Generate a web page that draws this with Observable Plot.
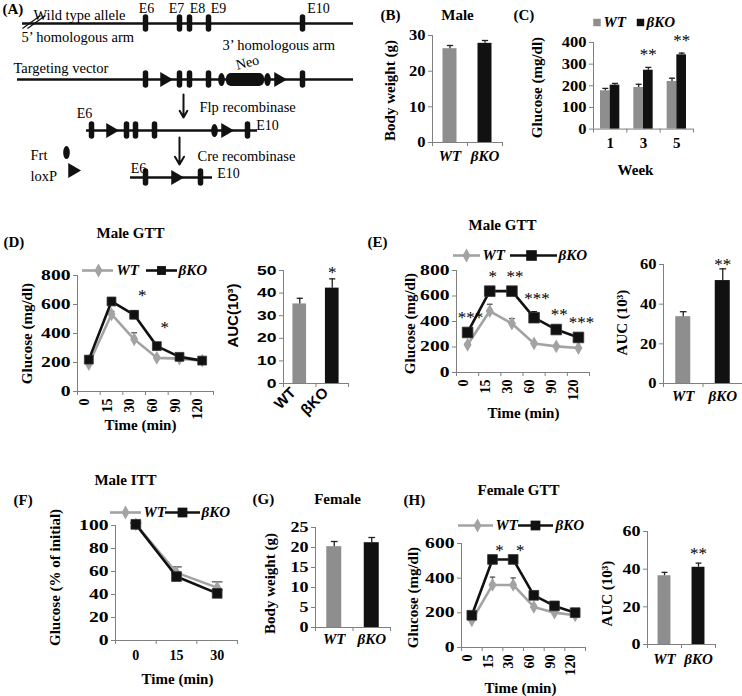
<!DOCTYPE html>
<html><head><meta charset="utf-8">
<script src="https://cdn.jsdelivr.net/npm/d3@7"></script>
<script src="https://cdn.jsdelivr.net/npm/@observablehq/plot@0.6"></script>
<style>
html,body{margin:0;padding:0;background:#fff;}
#fig{position:relative;width:742px;height:696px;overflow:hidden;background:#fff;}
</style></head><body><div id="fig"></div>
<script>
// ---------------- data ----------------
const genotypes = ["WT", "βKO"];
// (B) male body weight (g)
const maleWeight = [26.3, 27.8];
const maleWeightErr = [0.9, 0.8];
// (C) glucose by week (mg/dl)
const weeks = ["1", "3", "5"];
const weekWT = [177, 192, 220];
const weekWTErr = [11, 15, 15];
const weekKO = [203, 272, 343];
const weekKOErr = [8, 13, 8];
const weekStars = ["", "**", "**"];
// GTT sampling times (min)
const gttTimes = ["0", "15", "30", "60", "90", "120"];
// (D) male GTT
const dWT = [190, 533, 360, 232, 227, 213];
const dWTErr = [8, 20, 45, 10, 10, 10];
const dKO = [220, 621, 529, 313, 239, 213];
const dKOErr = [12, 25, 28, 22, 10, 8];
const dStars = ["", "", "*", "*", "", ""];
const dAUC = [35.2, 42.2];
const dAUCErr = [2.5, 4.1];
const dAUCStars = ["", "*"];
// (E) male GTT
const eWT = [218, 482, 384, 228, 205, 192];
const eWTErr = [10, 53, 39, 10, 8, 8];
const eKO = [314, 638, 638, 430, 337, 275];
const eKOErr = [15, 15, 15, 47, 15, 12];
const eStars = ["***", "*", "**", "***", "**", "***"];
const eAUC = [33.7, 51.9];
const eAUCErr = [2.5, 5.9];
const eAUCStars = ["", "**"];
// (F) male ITT (% of initial)
const ittTimes = ["0", "15", "30"];
const fWT = [101, 59, 46];
const fWTErr = [1, 5, 5];
const fKO = [101, 55.6, 41];
const fKOErr = [1, 3, 3];
const fStars = ["", "", ""];
// (G) female body weight (g)
const femaleWeight = [20.2, 21.2];
const femaleWeightErr = [1.3, 1.3];
// (H) female GTT
const hWT = [157, 361, 361, 234, 201, 186];
const hWTErr = [8, 45, 40, 10, 8, 8];
const hKO = [186, 508, 508, 301, 240, 201];
const hKOErr = [10, 12, 12, 15, 10, 8];
const hStars = ["", "*", "*", "", "", ""];
const hAUC = [36.5, 41];
const hAUCErr = [1.8, 2.2];
const hAUCStars = ["", "**"];

// ---------------- styles ----------------
const SERIF = "'Liberation Serif', 'Times New Roman', serif";
const SANS = "'Liberation Sans', Arial, sans-serif";
const GRAY = "#8e8e8e";
const LGRAY = "#a3a3a3";
const BLACK = "#111111";
const AXIS = "#808080";
const ERRGRAY = "#555555";
const fig = document.getElementById("fig");

function mount(node, left, top) {
  node.style.position = "absolute";
  node.style.left = left + "px";
  node.style.top = top + "px";
  fig.appendChild(node);
}
function geom(f) {
  const pad = {l: 45, t: 14, r: 14, b: 45};
  return {width: f.x1 - f.x0 + pad.l + pad.r, height: f.y1 - f.y0 + pad.t + pad.b,
    marginLeft: pad.l, marginRight: pad.r, marginTop: pad.t, marginBottom: pad.b,
    left: f.x0 - pad.l, top: f.y0 - pad.t};
}
function style(font) {
  return {background: "transparent", fontFamily: font, fontSize: "15px", fontWeight: "bold", color: "black", overflow: "visible"};
}
function widen(svg, selector, sx, sy) {
  svg.querySelectorAll(selector).forEach(t => {
    const tr = t.getAttribute("transform") || "";
    t.setAttribute("transform", tr + ` scale(${sx},${sy})`);
  });
}
function axes(n, yDomain, yTicks, font, size) {
  return [
    Plot.ruleX([0], {stroke: AXIS}),
    Plot.ruleY([yDomain[0]], {stroke: AXIS}),
    Plot.axisY({ticks: yTicks, tickSize: 4, tickPadding: 3, stroke: AXIS, fill: "black",
      fontFamily: font, fontSize: size, fontWeight: "bold", label: null, tickFormat: d => String(d)}),
    Plot.ruleX(d3.range(n + 1), {x: d => d, y1: yDomain[0], y2: yDomain[0], insetBottom: -4, stroke: AXIS})
  ];
}
function errBars(idx, xf, vals, errs, stroke, cw) {
  const top = i => vals[i] + errs[i];
  return [
    Plot.ruleX(idx, {x: xf, y1: i => vals[i], y2: top, stroke, strokeWidth: 1.3}),
    Plot.link(idx, {x1: i => xf(i) - cw, x2: i => xf(i) + cw, y1: top, y2: top, stroke, strokeWidth: 1.3})
  ];
}
function scales(n, yDomain) {
  return {x: {domain: [0, n], axis: null}, y: {domain: yDomain, axis: null}};
}

function linePanel(p) {
  const n = p.labels.length, idx = d3.range(n), cx = i => i + 0.5;
  const g = geom(p.frame);
  const starY = i => Math.max(p.ko[i] + p.koErr[i], p.wt[i] + p.wtErr[i]);
  const svg = Plot.plot({
    width: g.width, height: g.height, marginLeft: g.marginLeft, marginRight: g.marginRight,
    marginTop: g.marginTop, marginBottom: g.marginBottom,
    ...scales(n, p.yDomain),
    style: style(SERIF),
    marks: [
      ...axes(n, p.yDomain, p.yTicks, SERIF, 14),
      Plot.text(p.labels, {x: (d, i) => cx(i), frameAnchor: "bottom", dy: p.labelDy,
        rotate: p.rotate, textAnchor: p.rotate ? "end" : "middle", text: d => d, fontSize: 14, fill: "black",
        ariaLabel: "category label"}),
      ...errBars(idx, cx, p.wt, p.wtErr, ERRGRAY, 0.13),
      ...errBars(idx, cx, p.ko, p.koErr, BLACK, 0.13),
      Plot.line(idx, {x: cx, y: i => p.wt[i], stroke: LGRAY, strokeWidth: 2.6}),
      Plot.dot(idx, {x: cx, y: i => p.wt[i], symbol: "diamond", fill: LGRAY, r: p.dr}),
      Plot.line(idx, {x: cx, y: i => p.ko[i], stroke: BLACK, strokeWidth: 2.6}),
      Plot.dot(idx, {x: cx, y: i => p.ko[i], symbol: "square", fill: BLACK, stroke: "#333", strokeWidth: 0.8, r: p.sr}),
      Plot.text(idx.filter(i => p.stars[i]), {x: cx, y: starY, text: i => p.stars[i], dx: p.starDx, dy: p.starDy,
        fontWeight: "normal", fontSize: 17, fill: "black"})
    ]
  });
  widen(svg, 'g[aria-label="y-axis tick label"] text', 1.4, 1);
  if (p.rotate) widen(svg, 'g[aria-label="category label"] text', 1, 1.35);
  mount(svg, g.left, g.top);
}

function barPanel(p) {
  const n = p.labels.length, idx = d3.range(n), cx = i => i + 0.5;
  const colors = [GRAY, BLACK];
  const font = p.font || SERIF;
  const g = geom(p.frame);
  const svg = Plot.plot({
    width: g.width, height: g.height, marginLeft: g.marginLeft, marginRight: g.marginRight,
    marginTop: g.marginTop, marginBottom: g.marginBottom,
    ...scales(n, p.yDomain),
    style: style(font),
    marks: [
      ...axes(n, p.yDomain, p.yTicks, font, p.tickFont || 15),
      ...idx.map(i => Plot.rect([i], {x1: cx(i) - p.hw, x2: cx(i) + p.hw, y1: 0, y2: p.values[i], fill: colors[i]})),
      ...errBars(idx, cx, p.values, p.errs, "#222", p.hw * 0.45),
      Plot.text(p.labels, {x: (d, i) => cx(i), frameAnchor: "bottom", dy: p.labelDy, dx: p.labelDx || 0,
        rotate: p.rotate || 0, textAnchor: p.rotate ? "end" : "middle", text: d => d, fontSize: 15, fill: "black",
        fontStyle: p.italic ? "italic" : "normal", fontFamily: font}),
      Plot.text(idx.filter(i => p.stars && p.stars[i]), {x: cx, y: i => p.values[i] + p.errs[i],
        text: i => p.stars[i], dy: p.starDy, fontWeight: "normal", fontSize: 17, fontFamily: SERIF, fill: "black"})
    ]
  });
  widen(svg, 'g[aria-label="y-axis tick label"] text', p.wide || 1.1, 1);
  mount(svg, g.left, g.top);
}

function groupPanel(p) {
  const n = p.labels.length, idx = d3.range(n), cx = i => i + 0.5;
  const bw = p.bw;
  const wx = i => cx(i) - bw / 2, kx = i => cx(i) + bw / 2;
  const g = geom(p.frame);
  const svg = Plot.plot({
    width: g.width, height: g.height, marginLeft: g.marginLeft, marginRight: g.marginRight,
    marginTop: g.marginTop, marginBottom: g.marginBottom,
    ...scales(n, p.yDomain),
    style: style(SERIF),
    marks: [
      ...axes(n, p.yDomain, p.yTicks, SERIF, 15),
      Plot.rect(idx, {x1: i => cx(i) - bw, x2: cx, y1: 0, y2: i => p.wt[i], fill: GRAY}),
      Plot.rect(idx, {x1: cx, x2: i => cx(i) + bw, y1: 0, y2: i => p.ko[i], fill: BLACK}),
      ...errBars(idx, wx, p.wt, p.wtErr, "#222", 0.09),
      ...errBars(idx, kx, p.ko, p.koErr, "#222", 0.09),
      Plot.text(p.labels, {x: (d, i) => cx(i), frameAnchor: "bottom", dy: p.labelDy, text: d => d, fontSize: 15, fill: "black"}),
      Plot.text(idx.filter(i => p.stars[i]), {x: kx, y: i => p.ko[i] + p.koErr[i], text: i => p.stars[i],
        dy: p.starDy, fontWeight: "normal", fontSize: 17, fill: "black"})
    ]
  });
  widen(svg, 'g[aria-label="y-axis tick label"] text', 1.1, 1);
  mount(svg, g.left, g.top);
}

// ---------------- panels ----------------
barPanel({frame: {x0: 432, x1: 502, y0: 35, y1: 142}, yDomain: [0, 30], yTicks: [0, 10, 20, 30],
  values: maleWeight, errs: maleWeightErr, labels: genotypes, hw: 0.2, labelDy: 18, italic: true});
groupPanel({frame: {x0: 593, x1: 693, y0: 41.7, y1: 128.3}, yDomain: [0, 400], yTicks: [0, 100, 200, 300, 400],
  wt: weekWT, wtErr: weekWTErr, ko: weekKO, koErr: weekKOErr, stars: weekStars, labels: weeks,
  bw: 0.29, labelDy: 19, starDy: -13});
linePanel({frame: {x0: 77, x1: 213, y0: 275, y1: 391}, yDomain: [0, 800], yTicks: [0, 200, 400, 600, 800],
  wt: dWT, wtErr: dWTErr, ko: dKO, koErr: dKOErr, stars: dStars, labels: gttTimes,
  rotate: -90, labelDy: 7, dr: 4.2, sr: 5, starDx: 8, starDy: -15});
barPanel({frame: {x0: 283, x1: 348, y0: 270, y1: 383}, yDomain: [0, 50], yTicks: [0, 10, 20, 30, 40, 50],
  values: dAUC, errs: dAUCErr, labels: ["WT", "βKO"], hw: 0.21, font: SANS, tickFont: 13, wide: 1.35,
  rotate: -45, labelDy: 10, labelDx: -3, stars: dAUCStars, starDy: -6});
linePanel({frame: {x0: 456, x1: 589, y0: 270, y1: 372}, yDomain: [0, 800], yTicks: [0, 200, 400, 600, 800],
  wt: eWT, wtErr: eWTErr, ko: eKO, koErr: eKOErr, stars: eStars, labels: gttTimes,
  rotate: -90, labelDy: 7, dr: 4.2, sr: 6, starDx: 3, starDy: -13});
barPanel({frame: {x0: 663, x1: 742, y0: 264, y1: 383}, yDomain: [0, 60], yTicks: [0, 20, 40, 60],
  values: eAUC, errs: eAUCErr, labels: genotypes, hw: 0.19, labelDy: 17, italic: true,
  stars: eAUCStars, starDy: -4});
linePanel({frame: {x0: 115, x1: 237, y0: 525, y1: 640}, yDomain: [0, 100], yTicks: [0, 20, 40, 60, 80, 100],
  wt: fWT, wtErr: fWTErr, ko: fKO, koErr: fKOErr, stars: fStars, labels: ittTimes,
  rotate: 0, labelDy: 19, dr: 4.2, sr: 5.5, starDx: 0, starDy: 0});
barPanel({frame: {x0: 315, x1: 390, y0: 527, y1: 627}, yDomain: [0, 25], yTicks: [0, 5, 10, 15, 20, 25],
  values: femaleWeight, errs: femaleWeightErr, labels: genotypes, hw: 0.2, labelDy: 16, italic: true, wide: 1.2});
linePanel({frame: {x0: 461, x1: 585, y0: 543, y1: 647}, yDomain: [0, 600], yTicks: [0, 200, 400, 600],
  wt: hWT, wtErr: hWTErr, ko: hKO, koErr: hKOErr, stars: hStars, labels: gttTimes,
  rotate: -90, labelDy: 7, dr: 4.2, sr: 5.5, starDx: 7, starDy: -7});
barPanel({frame: {x0: 647, x1: 715, y0: 531, y1: 644}, yDomain: [0, 60], yTicks: [0, 20, 40, 60],
  values: hAUC, errs: hAUCErr, labels: genotypes, hw: 0.19, labelDy: 19, italic: true, wide: 1.2,
  stars: hAUCStars, starDy: -10});

// ---------------- schematic (A) and annotation layer ----------------
const schemeLines = [{x1: 22, x2: 353, y: 23}, {x1: 17, x2: 353, y: 79}, {x1: 86, x2: 257, y: 130}, {x1: 130, x2: 212, y: 177}];
const schemeExons = [
  {x: 145, y: 23}, {x: 179, y: 23}, {x: 189, y: 23}, {x: 208, y: 23}, {x: 302, y: 23},
  {x: 145, y: 79}, {x: 179, y: 79}, {x: 189, y: 79}, {x: 208, y: 79}, {x: 302, y: 79},
  {x: 91, y: 130}, {x: 126, y: 130}, {x: 135, y: 130}, {x: 154, y: 130}, {x: 247, y: 130},
  {x: 145, y: 177}, {x: 200, y: 177}];
const schemeLoxP = [{x: 164, y: 79}, {x: 278, y: 79}, {x: 110, y: 130}, {x: 225, y: 130}, {x: 175, y: 177}, {x: 72, y: 170}];
const schemeFrt = [{x: 221, y: 79}, {x: 267, y: 79}, {x: 214, y: 130}, {x: 66, y: 152}];
const schemeNeo = [{x1: 226, x2: 264, y1: 73, y2: 86}];
const schemeArrows = [{x1: 183, y1: 94, x2: 183, y2: 117}, {x1: 179, y1: 137, x2: 179, y2: 164}];
const schemeSlash = [{x1: 22, y1: 28, x2: 40, y2: 15}, {x1: 27, y1: 28, x2: 45, y2: 15}];
const schemeLabels = [
  {t: "Wild type allele", x: 33, y: 15}, {t: "5\u2019 homologous arm", x: 21, y: 37},
  {t: "3\u2019 homologous arm", x: 222, y: 45}, {t: "Targeting vector", x: 13, y: 68},
  {t: "Flp recombinase", x: 199, y: 107}, {t: "Cre recombinase", x: 197, y: 156},
  {t: "Frt", x: 30, y: 155}, {t: "loxP", x: 30, y: 176}];
const schemeExonNames = [
  {t: "E6", x: 146, y: 8}, {t: "E7", x: 176, y: 8}, {t: "E8", x: 197, y: 8},
  {t: "E9", x: 218, y: 8}, {t: "E10", x: 318, y: 8},
  {t: "E6", x: 84, y: 113}, {t: "E10", x: 267, y: 125},
  {t: "E6", x: 138, y: 168}, {t: "E10", x: 228, y: 173}];

const ellipse = {draw(ctx, size) {
  const r = Math.sqrt(size / Math.PI), rx = 0.55 * r, ry = 1.1 * r, k = 0.5523;
  ctx.moveTo(rx, 0);
  ctx.bezierCurveTo(rx, ry * k, rx * k, ry, 0, ry);
  ctx.bezierCurveTo(-rx * k, ry, -rx, ry * k, -rx, 0);
  ctx.bezierCurveTo(-rx, -ry * k, -rx * k, -ry, 0, -ry);
  ctx.bezierCurveTo(rx * k, -ry, rx, -ry * k, rx, 0);
  ctx.closePath();
}};

const notes = [];
function T(text, x, y, o = {}) {
  notes.push(Plot.text([text], {x, y, text: d => d, textAnchor: o.anchor || "middle", rotate: o.rotate || 0,
    fontSize: o.size || 15, fontWeight: o.weight || "bold", fontStyle: o.style || "normal",
    fontFamily: o.font || SERIF, fill: "black"}));
}
function legend(y, wt, ko) {
  notes.push(Plot.ruleY([y], {x1: wt.x1, x2: wt.x2, stroke: LGRAY, strokeWidth: 2.6}));
  notes.push(Plot.dot([0], {x: wt.m, y, symbol: "diamond", fill: LGRAY, r: 4.2}));
  T("WT", wt.t, y, {anchor: "start", style: "italic"});
  notes.push(Plot.ruleY([y], {x1: ko.x1, x2: ko.x2, stroke: BLACK, strokeWidth: 2.6}));
  notes.push(Plot.dot([0], {x: ko.m, y, symbol: "square", fill: BLACK, r: ko.r || 5}));
  T("βKO", ko.t, y, {anchor: "start", style: "italic"});
}

// panel letters and titles
T("(A)", 2, 9, {anchor: "start"});
T("(B)", 380, 15, {anchor: "start"});
T("Male", 457, 15);
T("(C)", 513, 15, {anchor: "start"});
T("(D)", 3, 242, {anchor: "start"});
T("Male GTT", 130, 233);
T("(E)", 367, 242, {anchor: "start"});
T("Male GTT", 502, 225);
T("(F)", 13, 500, {anchor: "start"});
T("Male ITT", 125, 480);
T("(G)", 252, 499, {anchor: "start"});
T("Female", 337, 499);
T("(H)", 403, 500, {anchor: "start"});
T("Female GTT", 518, 490);
// axis titles
T("Body weight (g)", 390, 90, {rotate: -90});
T("Glucose (mg/dl)", 537, 87, {rotate: -90});
T("Week", 635, 170);
T("Glucose (mg/dl)", 27, 333, {rotate: -90});
T("Time (min)", 140, 425);
T("AUC(10\u00b3)", 233, 315, {rotate: -90, font: SANS});
T("Glucose (mg/dl)", 410, 323, {rotate: -90});
T("Time (min)", 523, 413);
T("AUC (10\u00b3)", 622, 322, {rotate: -90});
T("Glucose (% of initial)", 55, 577, {rotate: -90});
T("Time (min)", 177, 679);
T("Body weight (g)", 270, 583, {rotate: -90});
T("Glucose (mg/dl)", 413, 597, {rotate: -90});
T("Time (min)", 520, 688);
T("AUC (10\u00b3)", 607, 593, {rotate: -90});
// legends
notes.push(Plot.dot([0], {x: 596.5, y: 22, symbol: "square", fill: GRAY, r: 4.2}));
T("WT", 603, 22, {anchor: "start", style: "italic"});
notes.push(Plot.dot([0], {x: 640, y: 22, symbol: "square", fill: BLACK, r: 4.2}));
T("βKO", 646, 22, {anchor: "start", style: "italic"});
legend(270, {x1: 82, x2: 113, m: 98, t: 116}, {x1: 146, x2: 177, m: 161, t: 178});
legend(255, {x1: 453, x2: 480, m: 466, t: 482}, {x1: 510, x2: 557, m: 531, t: 558, r: 6});
legend(512, {x1: 110, x2: 141, m: 125, t: 143}, {x1: 165, x2: 200, m: 182, t: 201, r: 5.5});
legend(525, {x1: 458, x2: 493, m: 477, t: 495}, {x1: 518, x2: 553, m: 535, t: 555, r: 5.5});

const overlay = Plot.plot({
  width: 742, height: 696, margin: 0,
  x: {type: "identity", axis: null}, y: {type: "identity", axis: null},
  style: {background: "transparent", fontFamily: SERIF, color: "black", overflow: "visible"},
  marks: [
    Plot.ruleY(schemeLines, {y: "y", x1: "x1", x2: "x2", stroke: BLACK, strokeWidth: 2.6}),
    Plot.link(schemeSlash, {x1: "x1", y1: "y1", x2: "x2", y2: "y2", stroke: BLACK, strokeWidth: 1.2}),
    Plot.ruleX(schemeExons, {x: "x", y1: d => d.y - 6, y2: d => d.y + 6, stroke: BLACK, strokeWidth: 5.5, strokeLinecap: "round"}),
    Plot.rect(schemeNeo, {x1: "x1", x2: "x2", y1: "y1", y2: "y2", fill: BLACK, rx: 5}),
    Plot.dot(schemeLoxP, {x: "x", y: "y", symbol: "triangle", rotate: 90, r: 5.5, fill: BLACK}),
    Plot.dot(schemeFrt, {x: "x", y: "y", symbol: ellipse, r: 6, fill: BLACK}),
    Plot.arrow(schemeArrows, {x1: "x1", y1: "y1", x2: "x2", y2: "y2", stroke: BLACK, strokeWidth: 2, headLength: 7}),
    Plot.text(schemeLabels, {x: "x", y: "y", text: "t", textAnchor: "start", fontSize: 14.5, fontWeight: "normal", fontFamily: SERIF, fill: "black"}),
    Plot.text(schemeExonNames, {x: "x", y: "y", text: "t", textAnchor: "middle", fontSize: 14, fontWeight: "normal", fontFamily: SERIF, fill: "black"}),
    Plot.text(["Neo"], {x: 247, y: 62, text: d => d, rotate: -14, fontSize: 14, fontWeight: "normal", fontFamily: SERIF, fill: "black"}),
    ...notes
  ]
});
mount(overlay, 0, 0);
</script></body></html>
